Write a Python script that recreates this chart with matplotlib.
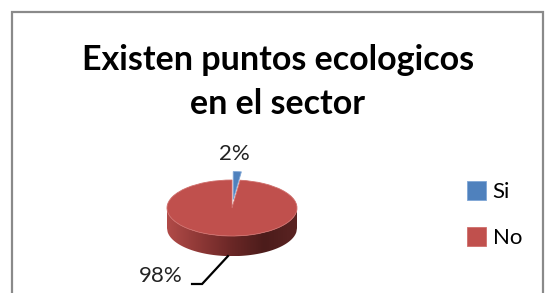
import numpy as np
import matplotlib
matplotlib.use('Agg')
from matplotlib import pyplot as plt
from matplotlib.patches import Rectangle, Polygon
from matplotlib.colors import LinearSegmentedColormap

# datos
labels = ['Si', 'No']
values = [2, 98]
pct_labels = ['2%', '98%']
colors = ['#4F81BD', '#C0504D']
title_lines = ['Existen puntos ecologicos', 'en el sector']

plt.rcParams['font.family'] = ['Lato', 'DejaVu Sans']

W, H = 546, 293
fig = plt.figure(figsize=(W / 100, H / 100), dpi=100)

# marco del grafico
fig.patches.append(Rectangle((12 / W, -0.1), 531 / W, 1.1 - 12 / H,
                             transform=fig.transFigure, fill=False,
                             edgecolor='#8a8a8a', linewidth=1.6))

# titulo
fig.text(278 / W, 1 - 70 / H, title_lines[0], ha='center', va='baseline',
         fontsize=24.5, fontweight='bold')
fig.text(278 / W, 1 - 114 / H, title_lines[1], ha='center', va='baseline',
         fontsize=24.5, fontweight='bold')

# ejes: 1 unidad = 65 px en x, 28 px en y, centro de la torta en (232, 208)
cx, cy, rx, ry = 232, 208, 65, 28
ax = fig.add_axes([0, 0, 1, 1])
ax.axis('off')

depth = 0.72

# lado 3D (gradiente)
xs = np.linspace(-1, 1, 200)
top = -np.sqrt(1 - xs ** 2)
side = np.concatenate([np.column_stack([xs, top]),
                       np.column_stack([xs[::-1], top[::-1] - depth])])
poly = Polygon(side, closed=True, facecolor='none', edgecolor='none')
ax.add_patch(poly)
cmap = LinearSegmentedColormap.from_list(
    'side', ['#b14b48', '#8e3836', '#6a2726', '#4c1c1b', '#5a2322'])
grad = np.linspace(0, 1, 256).reshape(1, -1)
im = ax.imshow(grad, cmap=cmap, extent=(-1, 1, -1 - depth, 0),
               aspect='auto', zorder=1)
im.set_clip_path(poly)

# tapa de la torta
wedges, _ = ax.pie(values, colors=colors, startangle=90, counterclock=False,
                   explode=[0.3, 0],
                   wedgeprops=dict(edgecolor='#cf6e6b', linewidth=0.6, zorder=2))
wedges[0].set_edgecolor('#7fa6d6')

ax.set_aspect('auto')
ax.set_xlim(-cx / rx, (W - cx) / rx)
ax.set_ylim(-(H - cy) / ry, cy / ry)

# etiquetas de porcentaje
ax.text(0.03, 1.93, pct_labels[0], ha='center', va='center', fontsize=16,
        color='#222222')
ax.text(-1.09, -2.43, pct_labels[1], ha='center', va='center', fontsize=16,
        color='#222222')

# linea guia para 98%
mid = np.deg2rad(90 - values[0] * 3.6 - values[1] * 3.6 / 2)
anchor = (np.cos(mid), np.sin(mid) - depth)
ax.plot([-0.615, -0.46, anchor[0]], [-2.714, -2.714, anchor[1]],
        color='black', linewidth=1.6, solid_joinstyle='miter')

# leyenda
ax.legend(wedges, labels, loc='center left',
          bbox_to_anchor=(467 / W, 1 - 214.5 / H),
          bbox_transform=fig.transFigure, frameon=False, fontsize=16,
          handlelength=0.85, handleheight=0.95, handletextpad=0.3,
          labelspacing=1.15, borderpad=0, borderaxespad=0)

fig.savefig('out.png', dpi=100)
